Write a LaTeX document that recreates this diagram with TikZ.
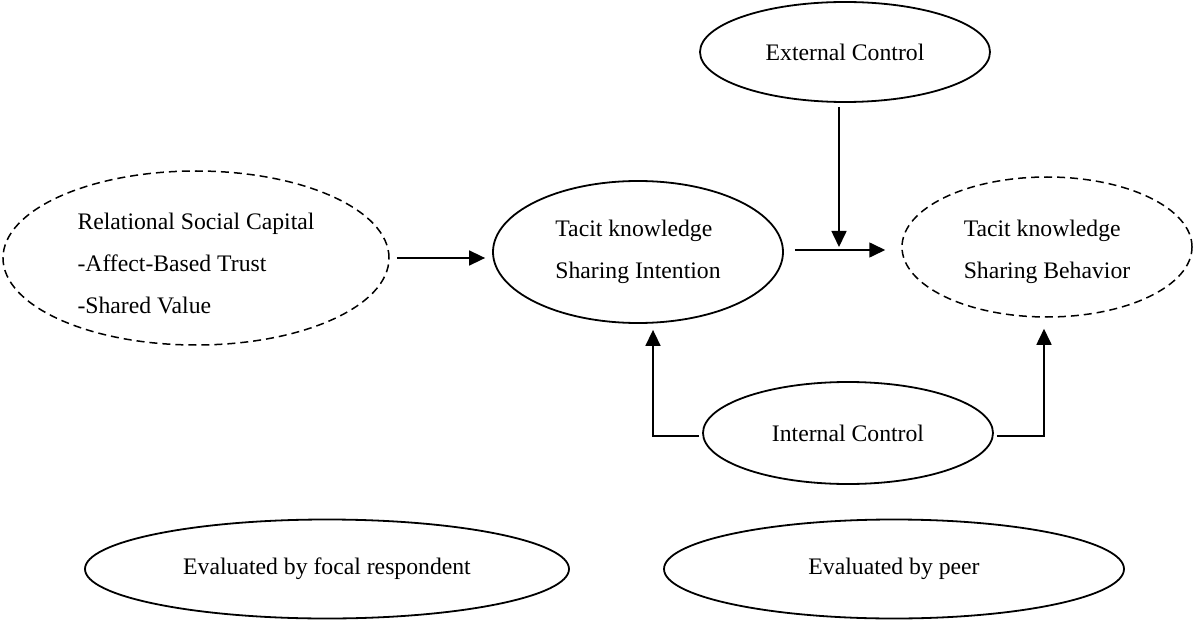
\documentclass[tikz,border=0pt]{standalone}
\usepackage{fontspec}
\setmainfont{Liberation Serif}
\usetikzlibrary{shapes.geometric,arrows.meta,calc}
\begin{document}
\begin{tikzpicture}[x=1pt,y=-1pt,
  every node/.style={font=\fontsize{23.7}{42}\selectfont},
  ell/.style={ellipse,draw,line width=1.8pt,inner sep=0pt,align=left},
  dell/.style={ell,line width=1.5pt,dash pattern=on 8pt off 5pt},
  arr/.style={line width=1.6pt,-{Triangle[length=16pt,width=15pt]}}]
\useasboundingbox (0,0) rectangle (1193,620);
\node[dell,minimum width=386pt,minimum height=174pt,
  label={[name=relt,align=left,yshift=-5pt]center:Relational Social Capital\\-Affect-Based Trust\\-Shared Value}] (rel) at (196,258) {};
\node[ell,minimum width=290pt,minimum height=142pt] (int) at (638,252) {Tacit knowledge\\Sharing Intention};
\node[dell,minimum width=290pt,minimum height=140pt,
  label={[name=beht,align=left,yshift=-5pt]center:Tacit knowledge\\Sharing Behavior}] (beh) at (1047,247) {};
\node[ell,minimum width=290pt,minimum height=100pt] (ext) at (845,52) {External Control};
\node[ell,minimum width=290pt,minimum height=102pt] (ic) at (848,433) {Internal Control};
\node[ell,minimum width=484pt,minimum height=99pt] (ev1) at (327,569) {Evaluated by focal respondent};
\node[ell,minimum width=460pt,minimum height=99pt] (ev2) at (894,569) {Evaluated by peer};
\coordinate (m) at (839,247);
\draw[arr] ($(rel.east)+(7,0)$) -- ($(int.west)+(-7,6)$);
\draw[arr] ($(int.east)+(11,-2)$) -- ($(beh.west)+(-16,3)$);
\draw[arr] ($(ext.south)+(-6,4)$) -- (m);
\draw[arr] ($(ic.west)+(-3,3)$) -| ($(int.south)+(15,6)$);
\draw[arr] ($(ic.east)+(3,3)$) -| ($(beh.south)+(-3,11)$);
\end{tikzpicture}
\end{document}
